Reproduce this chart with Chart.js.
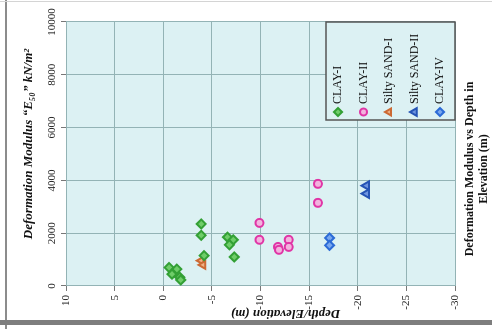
<!DOCTYPE html>
<html>
<head>
<meta charset="utf-8">
<script src="https://cdn.jsdelivr.net/npm/chart.js@4/dist/chart.umd.min.js"></script>
<style>
  html, body { margin: 0; padding: 0; background: #fff; }
  body { width: 492px; height: 329px; overflow: hidden; position: relative; }
  /* the chart is laid out portrait and turned a quarter turn counter-clockwise */
  #panel { position: absolute; left: 0; top: 0; width: 329px; height: 492px;
           transform-origin: 0 0; transform: translateY(329px) rotate(-90deg); }
  #panel canvas { display: block; }
  .rule { position: absolute; }
  #ruleLeft { left: 5px; top: 0; width: 2px; height: 329px; background: #8c8c8c; }
  #ruleTop { left: 0; top: 1px; width: 492px; height: 1px; background: #d4d4d4; }
  #ruleBottom { left: 0; top: 320px; width: 492px; height: 5px; background: #7e7e7e; }
</style>
</head>
<body>
<div id="panel"><canvas id="chart" width="329" height="492"></canvas></div>
<div class="rule" id="ruleLeft"></div>
<div class="rule" id="ruleTop"></div>
<div class="rule" id="ruleBottom"></div>
<script>
// Deformation modulus E50 (kN/m²) against depth / elevation (m)
const seriesNames = ['CLAY-I', 'CLAY-II', 'Silty SAND-I', 'Silty SAND-II', 'CLAY-IV'];

const clay1Depth = [-0.6, -1.4, -0.9, -1.7, -1.8, -3.9, -3.9, -4.2, -6.6, -7.2, -6.8, -7.3];
const clay1E50   = [700, 640, 450, 330, 230, 2350, 1920, 1150, 1850, 1750, 1560, 1100];

const clay2Depth = [-9.9, -9.9, -11.8, -11.9, -12.9, -12.9, -15.9, -15.9];
const clay2E50   = [2390, 1750, 1480, 1370, 1750, 1480, 3870, 3150];

const sand1Depth = [-3.9, -4.1];
const sand1E50   = [960, 800];

const sand2Depth = [-20.9, -20.9];
const sand2E50   = [3800, 3500];

const clay4Depth = [-17.1, -17.1];
const clay4E50   = [1820, 1540];

const e50Ticks   = [0, 2000, 4000, 6000, 8000, 10000];
const depthTicks = [10, 5, 0, -5, -10, -15, -20, -25, -30];

const e50Title   = 'Deformation Modulus \u201CE\u2085\u2080\u201D kN/m\u00B2';
const depthTitle = 'Depth/Elevation (m)';
const chartTitle = ['Deformation Modulus vs Depth in', 'Elevation (m)'];

const SERIF = "'Liberation Serif', 'Times New Roman', serif";
const PLOT_BG = '#dcf1f3';
const GRID = '#93b3b5';

function pairs(xs, ys) { return xs.map((x, i) => ({ x: ys[i], y: x })); }

const styles = [
  { pointStyle: 'rectRot',  radius: 4.5, fill: '#6fcd69', line: '#33a035' },
  { pointStyle: 'circle',   radius: 4,   fill: '#f3b3de', line: '#e035a6' },
  { pointStyle: 'triangle', radius: 4.5, fill: '#eeb084', line: '#cc6a34' },
  { pointStyle: 'triangle', radius: 5,   fill: '#6f95e0', line: '#2654b5' },
  { pointStyle: 'rectRot',  radius: 4.5, fill: '#7aa8ef', line: '#2c6bd6' }
];
const sources = [
  [clay1Depth, clay1E50], [clay2Depth, clay2E50], [sand1Depth, sand1E50],
  [sand2Depth, sand2E50], [clay4Depth, clay4E50]
];

const datasets = sources.map((s, i) => ({
  label: seriesNames[i],
  data: pairs(s[0], s[1]),
  pointStyle: styles[i].pointStyle,
  pointRadius: styles[i].radius,
  pointBackgroundColor: styles[i].fill,
  pointBorderColor: styles[i].line,
  pointBorderWidth: 2,
  backgroundColor: styles[i].fill,
  borderColor: styles[i].line,
  showLine: false
}));

// light cyan plot area
const plotBackground = {
  id: 'plotBackground',
  beforeDraw(chart) {
    const { ctx, chartArea: a } = chart;
    ctx.save();
    ctx.fillStyle = PLOT_BG;
    ctx.fillRect(a.left, a.top, a.right - a.left, a.bottom - a.top);
    ctx.restore();
  }
};

// axis titles and the caption under the plot
const captions = {
  id: 'captions',
  afterDraw(chart) {
    const { ctx, chartArea: a } = chart;
    ctx.save();
    ctx.fillStyle = '#111';
    ctx.textAlign = 'center';
    ctx.textBaseline = 'middle';

    ctx.font = 'bold italic 13px ' + SERIF;
    ctx.fillText(e50Title, (a.left + a.right) / 2 + 10, 29);

    ctx.save();
    ctx.translate(16, (a.top + a.bottom) / 2 + 25);
    ctx.rotate(-Math.PI / 2);
    ctx.fillText(depthTitle, 0, 0);
    ctx.restore();

    ctx.font = 'bold 12px ' + SERIF;
    chartTitle.forEach((t, i) => ctx.fillText(t, 160, 470 + i * 14));
    ctx.restore();
  }
};

// boxed key in the lower-right corner of the plot
const keyBox = {
  id: 'keyBox',
  afterDatasetsDraw(chart) {
    const { ctx, chartArea: a } = chart;
    const left = a.right - 98, top = a.bottom - 129;
    ctx.save();
    ctx.fillStyle = PLOT_BG;
    ctx.fillRect(left, top, a.right - left, a.bottom - top);
    ctx.strokeStyle = '#555';
    ctx.lineWidth = 1.5;
    ctx.strokeRect(left, top, a.right - left, a.bottom - top);
    ctx.font = '12px ' + SERIF;
    ctx.textAlign = 'left';
    ctx.textBaseline = 'middle';
    chart.data.datasets.forEach((ds, i) => {
      const y = top + 12 + i * 25.5;
      ctx.fillStyle = ds.pointBackgroundColor;
      ctx.strokeStyle = ds.pointBorderColor;
      ctx.lineWidth = 2;
      Chart.helpers.drawPoint(ctx, { pointStyle: ds.pointStyle, radius: ds.pointRadius - 0.5, rotation: 0, borderWidth: 2 }, left + 8, y);
      ctx.fillStyle = '#111';
      ctx.fillText(ds.label, left + 16, y);
    });
    ctx.restore();
  }
};

const plainNumber = v => String(v);

new Chart(document.getElementById('chart'), {
  type: 'scatter',
  data: { datasets },
  options: {
    responsive: false,
    animation: false,
    devicePixelRatio: 1,
    layout: { padding: { left: 0, top: 0, right: 22, bottom: 37 } },
    plugins: { legend: { display: false }, title: { display: false }, tooltip: { enabled: false } },
    scales: {
      x: {
        type: 'linear',
        position: 'top',
        min: e50Ticks[0],
        max: e50Ticks[e50Ticks.length - 1],
        afterFit(scale) { scale.height = 66; },
        ticks: { stepSize: e50Ticks[1] - e50Ticks[0], color: '#222', padding: 2,
                 callback: plainNumber, font: { family: SERIF, size: 11 } },
        grid: { color: GRID, lineWidth: 1, tickLength: 5, tickColor: '#777' },
        border: { color: GRID }
      },
      y: {
        type: 'linear',
        min: depthTicks[depthTicks.length - 1],
        max: depthTicks[0],
        afterFit(scale) { scale.width = 43; },
        ticks: { stepSize: depthTicks[0] - depthTicks[1], color: '#222', padding: 4,
                 callback: plainNumber, font: { family: SERIF, size: 11 } },
        grid: { color: GRID, lineWidth: 1, tickLength: 5, tickColor: '#777' },
        border: { color: GRID }
      }
    }
  },
  plugins: [plotBackground, captions, keyBox]
});
</script>
</body>
</html>
